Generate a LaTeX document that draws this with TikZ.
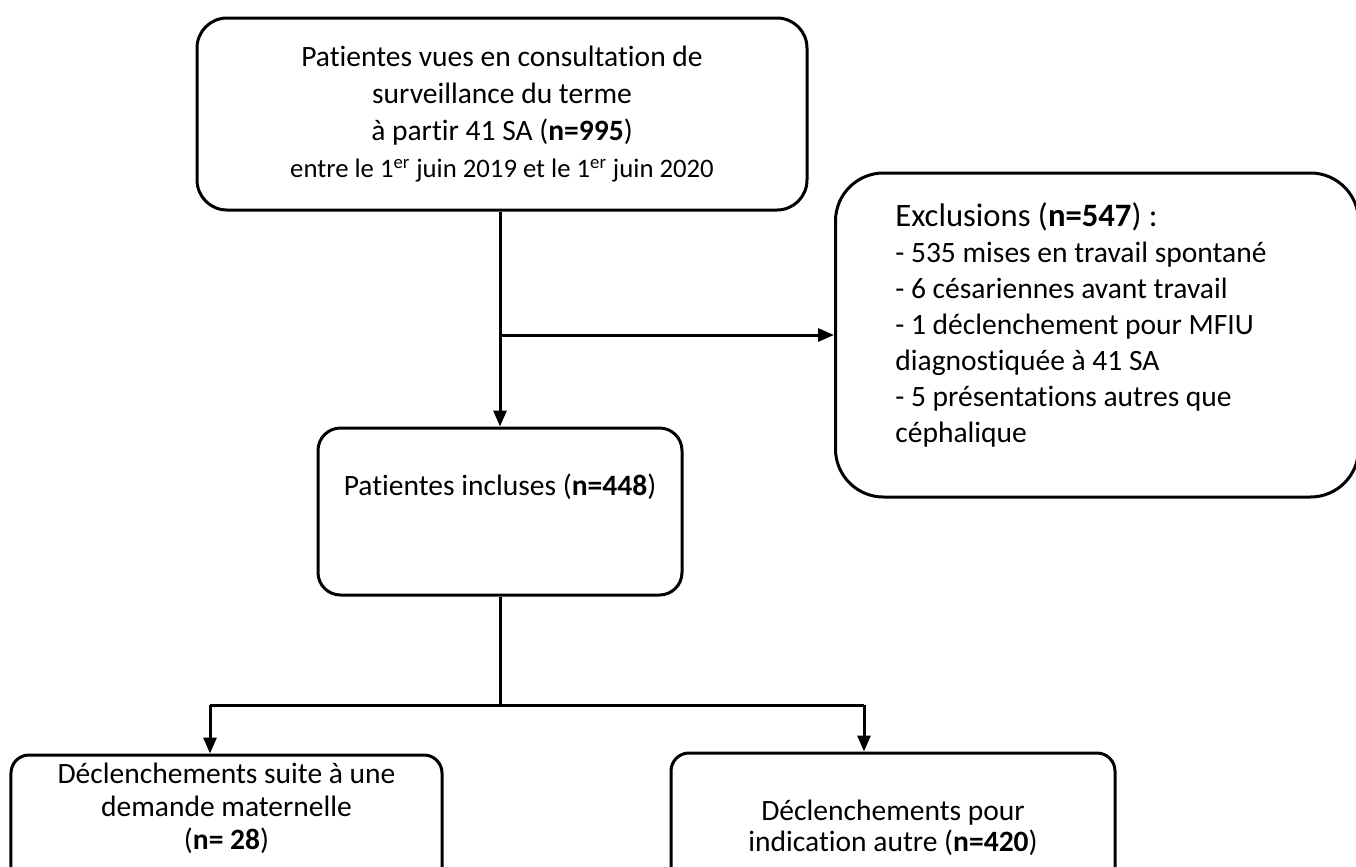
\documentclass[tikz,border=0pt]{standalone}
\usepackage{fontspec}
\setmainfont{Carlito}[Ligatures=NoCommon]
\usepackage{tikz}
\usetikzlibrary{arrows.meta, positioning}
\tikzset{
    roundnode/.style = {draw, rectangle, line width=0.06cm, inner sep = 0.1cm, 
      node distance=0em, align=center, font=\fontsize{16.8}{18}\selectfont},
    textnode/.style  = {draw=none, fill=none, rectangle, inner sep = 0em, node distance=0em},
    connect/.style = {black, line width=0.06cm, -{Triangle[length=0.32cm, width=0.26cm]}},
    plainline/.style = {black, line width=0.06cm}
}

\begin{document}
\begin{tikzpicture}[node distance=0em]
    \useasboundingbox (0,0) rectangle (27.12,-17.34);
    \clip (0,0) rectangle (27.12,-17.34);

    \node[roundnode, name=Top, minimum width=12.2cm, minimum height=3.84cm, rounded corners=0.6cm, 
      font=\fontsize{16.8}{21}\selectfont] at (10.04,-2.28) 
      {Patientes vues en consultation de\\surveillance du terme\\à partir 41 SA (\textbf{n=995})\\
       {\fontsize{15.2}{21}\selectfont entre le 1\textsuperscript{er} juin 2019 et le 1\textsuperscript{er} juin 2020}};

    \node[roundnode, name=Incl, below of=Top, xshift=-0.04cm, yshift=-7.95cm, minimum width=7.28cm, 
      minimum height=3.34cm, rounded corners=0.45cm, text depth=1.06cm] 
      {Patientes incluses (\textbf{n=448})};

    \node[roundnode, name=Excl, right of=Top, xshift=11.9cm, yshift=-4.42cm, minimum width=10.46cm, 
      minimum height=6.48cm, rounded corners=0.96cm] {};
    \node[textnode, name=ExclText, anchor=west, align=left, font=\fontsize{16.8}{20.5}\selectfont] 
      at ([xshift=1.22cm, yshift=0.2cm]Excl.west)
      {{\fontsize{18.6}{20.5}\selectfont Exclusions (\textbf{n=547}) :}\\
       - 535 mises en travail spontané\\- 6 césariennes avant travail\\
       - 1 déclenchement pour MFIU\\diagnostiquée à 41 SA\\
       - 5 présentations autres que\\céphalique};
    \draw[connect] (Top.south -| Incl.north) -- (Incl.north);
    \draw[connect] (Excl.west -| Incl.north) -- (Excl.west);

    \node[roundnode, name=Left, below of=Incl, xshift=-5.47cm, yshift=-6.37cm, minimum width=8.62cm, 
      minimum height=3cm, rounded corners=0.36cm, text depth=0.95cm, font=\fontsize{16.8}{18.8}\selectfont] 
      {Déclenchements suite à une\\demande maternelle\\(\textbf{n= 28})};
    \node[roundnode, name=Right, below of=Incl, xshift=7.86cm, yshift=-6.32cm, minimum width=8.88cm, 
      minimum height=2.98cm, rounded corners=0.36cm, font=\fontsize{16.8}{17.6}\selectfont] 
      {Déclenchements pour\\indication autre (\textbf{n=420})};

    \coordinate[below of=Incl, yshift=-3.87cm] (split);
    \coordinate[left of=split, xshift=-5.8cm] (splitL);
    \coordinate[right of=split, xshift=7.28cm] (splitR);
    \draw[plainline] (Incl.south) -- (split);
    \draw[plainline] (splitL) -- (splitR);
    \draw[connect] (splitL) -- (splitL |- Left.north);
    \draw[connect] (splitR) -- (splitR |- Right.north);
\end{tikzpicture}
\end{document}
